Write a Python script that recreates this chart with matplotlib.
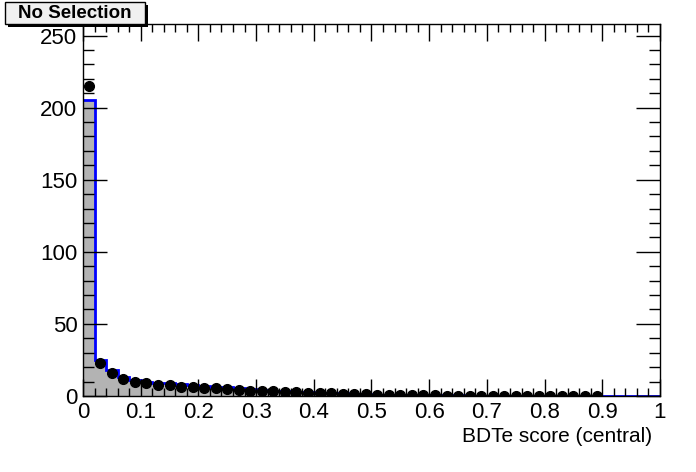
import numpy as np
import matplotlib
matplotlib.use('Agg')
import matplotlib.pyplot as plt
from matplotlib.patches import Rectangle
from matplotlib.ticker import MultipleLocator

plt.rcParams['font.family'] = ['Liberation Sans', 'DejaVu Sans']

# 50 bins of width 0.02 on [0, 1]
bin_edges = np.linspace(0.0, 1.0, 51)
bin_centers = 0.5 * (bin_edges[:-1] + bin_edges[1:])

# stacked MC histogram (grey fill, blue outline)
mc_counts = [205, 25, 18, 13, 10.8, 10, 9.2, 8.7, 8.0, 7.5,
             7.0, 6.5, 6.0, 5.5, 4.8, 4.2, 3.8, 3.4, 3.0, 2.7,
             2.4, 2.1, 1.8, 1.5, 1.2, 1.0, 0.8, 0.7, 0.6, 0.5,
             0.45, 0.4, 0.35, 0.3, 0.28, 0.25, 0.22, 0.2, 0.18, 0.16,
             0.14, 0.12, 0.1, 0.1, 0.08, 0, 0, 0, 0, 0]

# data points
data_counts = [215, 23, 16, 12, 9.6, 9, 7.8, 7.6, 6.5, 6.5,
               5.8, 5.6, 4.8, 4.4, 3.5, 3.2, 3.3, 2.8, 2.6, 2.3,
               2.0, 2.2, 1.6, 1.3, 1.1, 0.8, 0.6, 0.5, 0.5, 0.4,
               0.4, 0.3, 0.3, 0.3, 0.2, 0.2, 0.2, 0.2, 0.1, 0.1,
               0.1, 0.1, 0.1, 0.1, 0.1]

fig = plt.figure(figsize=(6.96, 4.72), dpi=100)
ax = fig.add_axes([83/696, 1-396/472, 577/696, 372/472])

ax.hist(bin_centers, bins=bin_edges, weights=mc_counts, histtype='stepfilled',
        color='#b3b3b3', edgecolor='none')
ax.stairs(mc_counts, bin_edges, baseline=None, color='#0000ff', linewidth=2)

ax.plot(bin_centers[:len(data_counts)], data_counts, 'o', color='black',
        markersize=7, zorder=5)

ax.set_xlim(0, 1)
ax.set_ylim(0, 258)

ax.xaxis.set_major_locator(MultipleLocator(0.1))
ax.xaxis.set_minor_locator(MultipleLocator(0.02))
ax.yaxis.set_major_locator(MultipleLocator(50))
ax.yaxis.set_minor_locator(MultipleLocator(10))
ax.set_xticks(np.arange(0, 1.01, 0.1))
ax.set_xticklabels(['0', '0.1', '0.2', '0.3', '0.4', '0.5', '0.6', '0.7', '0.8', '0.9', '1'])

ax.tick_params(axis='both', which='both', direction='in', top=True, right=True,
               labelsize=16, width=1, color='black')
ax.tick_params(axis='x', which='major', length=12, pad=4)
ax.tick_params(axis='x', which='minor', length=6)
ax.tick_params(axis='y', which='major', length=17, pad=4)
ax.tick_params(axis='y', which='minor', length=8)
for sp in ax.spines.values():
    sp.set_linewidth(1)
    sp.set_zorder(6)

fig.text(652/696, 1-436/472, 'BDTe score (central)', ha='right', va='center', fontsize=15)

# title box with drop shadow
fig.patches.append(Rectangle((8/696, 1-27/472), 140/696, 22/472, transform=fig.transFigure,
                             facecolor='black', edgecolor='none', zorder=9))
fig.patches.append(Rectangle((5/696, 1-24/472), 140/696, 22/472, transform=fig.transFigure,
                             facecolor='#f0f0f0', edgecolor='black', linewidth=1, zorder=10))
fig.text(75/696, 1-13/472, 'No Selection', ha='center', va='center', fontsize=13.5,
         fontweight='bold', zorder=11)

plt.savefig('out.png', dpi=100)
